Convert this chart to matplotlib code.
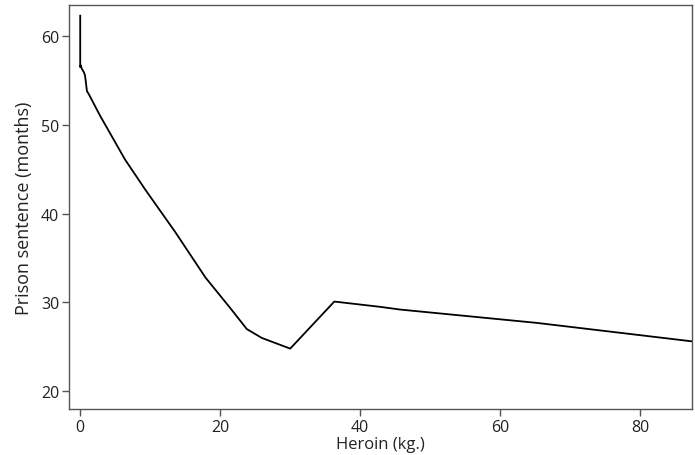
import matplotlib.pyplot as plt
import numpy as np

# Heroin quantity (kg) vs. predicted prison sentence (months)
heroin_kg = [0.0, 0.0, 0.08, 0.24, 0.55, 0.7, 0.96, 1.2, 2.86, 6.4, 9.3, 13.6, 17.9,
             21.4, 23.8, 25.95, 30.0, 36.3, 42.9, 45.7, 65.2, 87.6]
sentence_months = [62.3, 56.5, 56.7, 56.3, 55.9, 55.5, 53.8, 53.5, 51.0, 46.1, 42.7, 37.9, 32.8,
                   29.4, 27.0, 26.0, 24.8, 30.1, 29.5, 29.2, 27.7, 25.6]

x_ticks = [0, 20, 40, 60, 80]
y_ticks = [20, 30, 40, 50, 60]

plt.rcParams['font.family'] = ['Open Sans', 'DejaVu Sans']

fig = plt.figure(figsize=(6.95, 4.56), dpi=100)
ax = fig.add_axes([0.0993, 0.1009, 0.8964, 0.8859])

ax.plot(heroin_kg, sentence_months, color='black', linewidth=1.3)

ax.set_xlim(-1.6, 87.4)
ax.set_ylim(18.0, 63.5)
ax.set_xticks(x_ticks)
ax.set_yticks(y_ticks)

for s in ax.spines.values():
    s.set_color('#555555')
    s.set_linewidth(1.0)
ax.tick_params(direction='out', length=5, width=1, color='#555555',
               labelsize=11.5, labelcolor='#222222', pad=2)

ax.set_xlabel('Heroin (kg.)', fontsize=12, color='#222222', labelpad=1)
ax.set_ylabel('Prison sentence (months)', fontsize=13, color='#222222', labelpad=6)

fig.savefig('out.png', dpi=100)
